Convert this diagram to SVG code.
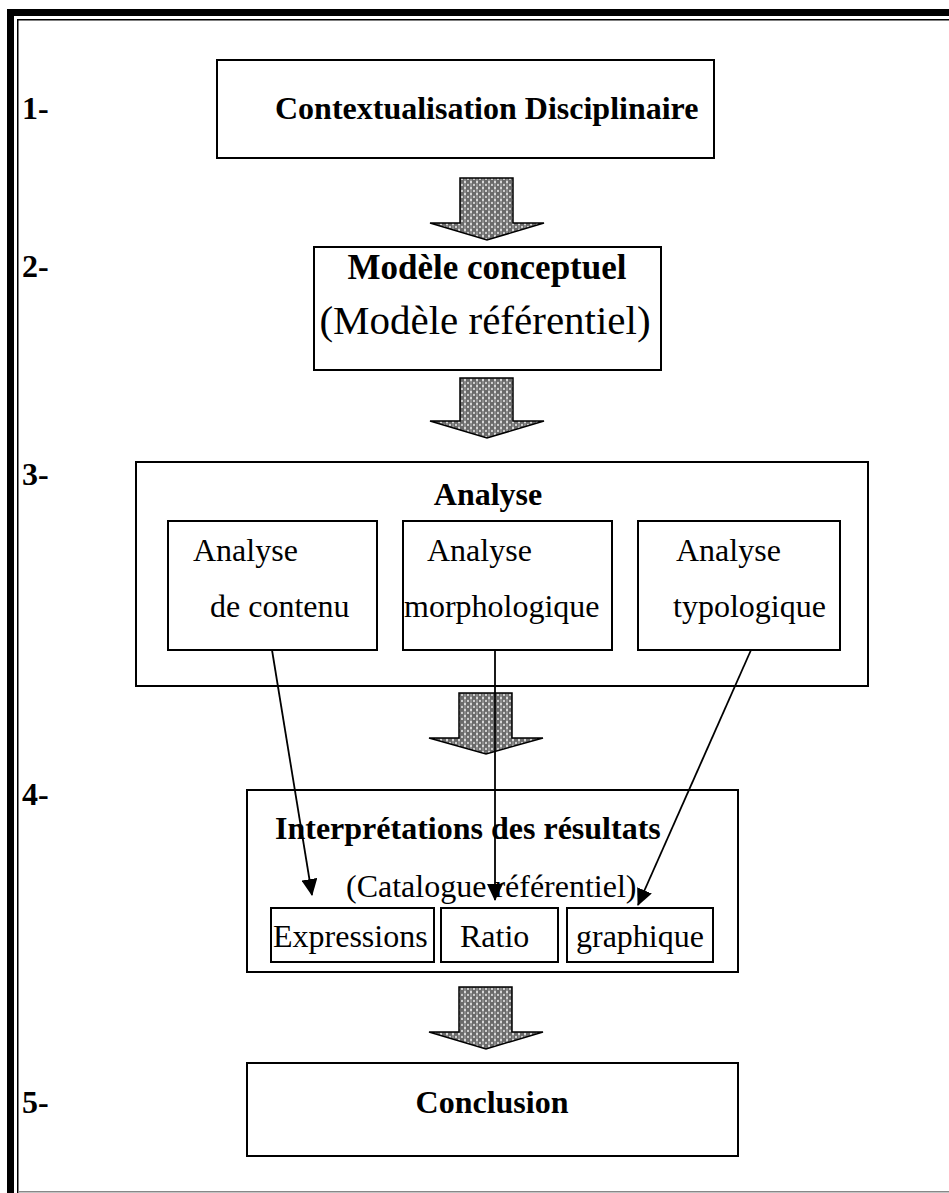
<svg xmlns="http://www.w3.org/2000/svg" width="949" height="1193" viewBox="0 0 949 1193">
<style>
.box{fill:#fff;stroke:#000;stroke-width:2}
.b{font-family:"Liberation Serif","Times New Roman",serif;font-size:32px;font-weight:bold;fill:#000}
.r{font-family:"Liberation Serif","Times New Roman",serif;font-size:32px;fill:#000}
.fat{fill:url(#chk);stroke:#000;stroke-width:1.5}
.con{stroke:#000;stroke-width:1.8;fill:none}
</style>
<defs>
<pattern id="chk" width="6" height="6" patternUnits="userSpaceOnUse">
<rect width="6" height="6" fill="#6a6a6a"/>
<path d="M3 0.6 L4 2 L3 3.4 L2 2 Z M0 3.6 L1 5 L0 6.4 L-1 5 Z M6 3.6 L7 5 L6 6.4 L5 5 Z" fill="#fff"/>
<rect x="2.6" y="0" width="0.8" height="6" fill="#fff" opacity="0.5"/>
</pattern>
<marker id="ah" markerWidth="17" markerHeight="16" refX="16" refY="8" orient="auto" markerUnits="userSpaceOnUse">
<path d="M0 0 L17 8 L0 16 Z" fill="#000"/>
</marker>
</defs>
<rect width="949" height="1193" fill="#fff"/>
<g id="frame">
<rect x="7" y="9" width="942" height="7" fill="#000"/>
<rect x="7" y="9" width="7" height="1184" fill="#000"/>
<rect x="17" y="19" width="932" height="1.5" fill="#000"/>
<rect x="17" y="19" width="1.5" height="1174" fill="#000"/>
<rect x="18" y="1191" width="931" height="1.5" fill="#888"/>
</g>
<g id="labels">
<text class="b" x="22" y="119">1-</text>
<text class="b" x="22" y="277">2-</text>
<text class="b" x="22" y="485">3-</text>
<text class="b" x="22" y="805">4-</text>
<text class="b" x="22" y="1113">5-</text>
</g>
<g id="n1">
<rect class="box" x="217" y="60" width="497" height="98"/>
<text class="b" x="275" y="119">Contextualisation Disciplinaire</text>
</g>
<g id="a1"><path class="fat" d="M460 178 H513 V223 H544 L487 240 L430 223 H460 Z"/></g>
<g id="n2">
<rect class="box" x="314" y="247" width="347" height="123"/>
<text class="b" x="487" y="279" text-anchor="middle" style="font-size:35px">Modèle conceptuel</text>
<text class="r" x="485" y="334" text-anchor="middle" style="font-size:41px">(Modèle référentiel)</text>
</g>
<g id="a2"><path class="fat" d="M460 378 H513 V421 H544 L487 438 L430 421 H460 Z"/></g>
<g id="n3">
<rect class="box" x="136" y="462" width="732" height="224"/>
<text class="b" x="488" y="505" text-anchor="middle">Analyse</text>
</g>
<g id="n3a">
<rect class="box" x="168" y="521" width="209" height="129"/>
<text class="r" x="193" y="561">Analyse</text>
<text class="r" x="210" y="617">de contenu</text>
</g>
<g id="n3b">
<rect class="box" x="403" y="521" width="209" height="129"/>
<text class="r" x="427" y="561">Analyse</text>
<text class="r" x="404" y="617">morphologique</text>
</g>
<g id="n3c">
<rect class="box" x="638" y="521" width="202" height="129"/>
<text class="r" x="676" y="561">Analyse</text>
<text class="r" x="673" y="617">typologique</text>
</g>
<g id="a3"><path class="fat" d="M459 693 H512 V738 H543 L486 754 L429 738 H459 Z"/></g>
<g id="n4">
<rect class="box" x="247" y="790" width="491" height="182"/>
<text class="b" x="275" y="839">Interprétations des résultats</text>
<text class="r" x="346" y="897">(Catalogue référentiel)</text>
</g>
<g id="n4a">
<rect class="box" x="271" y="908" width="163" height="54"/>
<text class="r" x="273" y="947">Expressions</text>
</g>
<g id="n4b">
<rect class="box" x="441" y="908" width="117" height="54"/>
<text class="r" x="460" y="947">Ratio</text>
</g>
<g id="n4c">
<rect class="box" x="567" y="908" width="146" height="54"/>
<text class="r" x="576" y="947">graphique</text>
</g>
<g id="a4"><path class="fat" d="M459 987 H512 V1032 H543 L486 1049 L429 1032 H459 Z"/></g>
<g id="n5">
<rect class="box" x="247" y="1063" width="491" height="93"/>
<text class="b" x="492" y="1113" text-anchor="middle">Conclusion</text>
</g>
<g id="connectors">
<line class="con" x1="272" y1="650" x2="312" y2="895" marker-end="url(#ah)"/>
<line class="con" x1="495" y1="650" x2="495" y2="900" marker-end="url(#ah)"/>
<line class="con" x1="751" y1="650" x2="638" y2="905" marker-end="url(#ah)"/>
</g>
</svg>
